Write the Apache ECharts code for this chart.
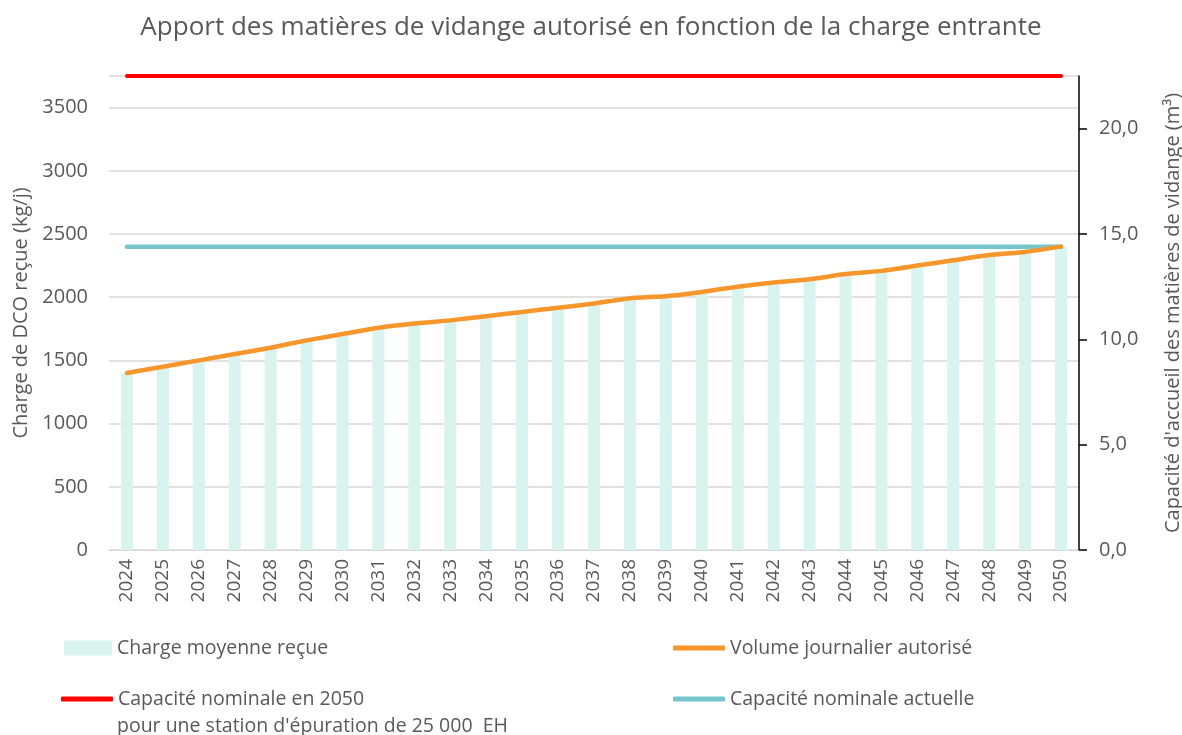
<!DOCTYPE html>
<html><head><meta charset="utf-8">
<script src="https://cdn.jsdelivr.net/npm/echarts@6/dist/echarts.min.js"></script>
<style>html,body{margin:0;padding:0;background:#fff}#c{width:1182px;height:735px}</style>
</head><body><div id="c"></div>
<script>
const years = ['2024','2025','2026','2027','2028','2029','2030','2031','2032','2033','2034','2035','2036','2037','2038','2039','2040','2041','2042','2043','2044','2045','2046','2047','2048','2049','2050'];
const chargeRecue = [1400,1450,1500,1550,1600,1660,1710,1760,1790,1820,1850,1880,1920,1950,1990,2010,2040,2080,2120,2140,2180,2210,2250,2290,2330,2360,2400];
const volumeAutorise = [8.4,8.7,9.0,9.3,9.6,9.95,10.25,10.55,10.75,10.9,11.1,11.3,11.5,11.7,11.95,12.05,12.25,12.5,12.7,12.85,13.1,13.25,13.5,13.75,14.0,14.15,14.4];
const capacite2050 = years.map(() => 3750);
const capaciteActuelle = years.map(() => 2400);
const leftTicks = {min: 0, max: 3750, interval: 500};
const rightTicks = {min: 0, max: 22.5, interval: 5};

const FONT = 'Open Sans';
const GREY = '#595959';
const names = {
  bar: 'Charge moyenne reçue',
  vol: 'Volume journalier autorisé',
  red: 'Capacité nominale en 2050',
  teal: 'Capacité nominale actuelle'
};
const redLine2 = 'pour une station d\'épuration de 25 000  EH';
const chart = echarts.init(document.getElementById('c'));
const legendText = {color: GREY, fontFamily: FONT, fontSize: 19.5};
const lineIcon = 'roundRect';
chart.setOption({
  animation: false,
  textStyle: {fontFamily: FONT},
  title: {
    text: 'Apport des matières de vidange autorisé en fonction de la charge entrante',
    left: 'center', top: 10,
    textStyle: {color: GREY, fontFamily: FONT, fontSize: 26, fontWeight: 'normal'}
  },
  grid: {left: 109, right: 103, top: 76, bottom: 185, containLabel: false, outerBoundsMode: 'none'},
  legend: [
    {data: [{name: names.bar, icon: 'rect'}], left: 59, top: 633, itemWidth: 48, itemHeight: 15, itemGap: 0, textStyle: legendText},
    {data: [{name: names.vol, icon: lineIcon}], left: 668, top: 633, itemWidth: 52, itemHeight: 5, itemGap: 0, textStyle: legendText},
    {data: [{name: names.red, icon: lineIcon}], left: 56, top: 684, itemWidth: 52, itemHeight: 5, itemGap: 0, textStyle: legendText},
    {data: [{name: names.teal, icon: lineIcon}], left: 668, top: 684, itemWidth: 52, itemHeight: 5, itemGap: 0, textStyle: legendText}
  ],
  graphic: [
    {type: 'text', left: 117, top: 716, style: {text: redLine2, fill: GREY, font: '19.5px "Open Sans"'}}
  ],
  xAxis: {
    type: 'category', data: years,
    axisLine: {show: true, lineStyle: {color: '#d9d9d9', width: 1}},
    axisTick: {show: false},
    axisLabel: {rotate: 90, color: GREY, fontSize: 19, margin: 9, interval: 0}
  },
  yAxis: [
    {
      type: 'value', min: leftTicks.min, max: leftTicks.max, interval: leftTicks.interval,
      name: 'Charge de DCO reçue (kg/j)', nameLocation: 'middle', nameGap: 74, nameRotate: 90,
      nameTextStyle: {color: GREY, fontSize: 20},
      axisLine: {show: false}, axisTick: {show: false},
      axisLabel: {color: GREY, fontSize: 20, margin: 21, showMaxLabel: false, formatter: v => String(v)},
      splitLine: {lineStyle: {color: '#d9d9d9', width: 1.5}}
    },
    {
      type: 'value', min: rightTicks.min, max: rightTicks.max, interval: rightTicks.interval,
      name: 'Capacité d\'accueil des matières de vidange (m³)', nameLocation: 'middle', nameGap: 84, nameRotate: 90,
      nameTextStyle: {color: GREY, fontSize: 20},
      axisLine: {show: true, lineStyle: {color: '#000', width: 1.5}},
      axisTick: {show: true, inside: false, length: 8, lineStyle: {color: '#000', width: 1.5}},
      axisLabel: {color: GREY, fontSize: 20, margin: 20, showMaxLabel: false,
        formatter: v => v.toFixed(1).replace('.', ',')},
      splitLine: {show: false}
    }
  ],
  series: [
    {name: names.bar, type: 'bar', data: chargeRecue, yAxisIndex: 0, barWidth: 12,
     itemStyle: {color: '#d9f3ef'}},
    {name: names.red, type: 'line', data: capacite2050, yAxisIndex: 0, symbol: 'none',
     lineStyle: {color: '#ff0000', width: 4, cap: 'round'}, itemStyle: {color: '#ff0000'}, z: 3},
    {name: names.teal, type: 'line', data: capaciteActuelle, yAxisIndex: 0, symbol: 'none',
     lineStyle: {color: '#74c6cc', width: 4.5, cap: 'round'}, itemStyle: {color: '#74c6cc'}, z: 4},
    {name: names.vol, type: 'line', data: volumeAutorise, yAxisIndex: 1, symbol: 'none', smooth: 0.15,
     lineStyle: {color: '#f7962b', width: 4.5, cap: 'round'}, itemStyle: {color: '#f7962b'}, z: 5}
  ]
});
</script></body></html>
